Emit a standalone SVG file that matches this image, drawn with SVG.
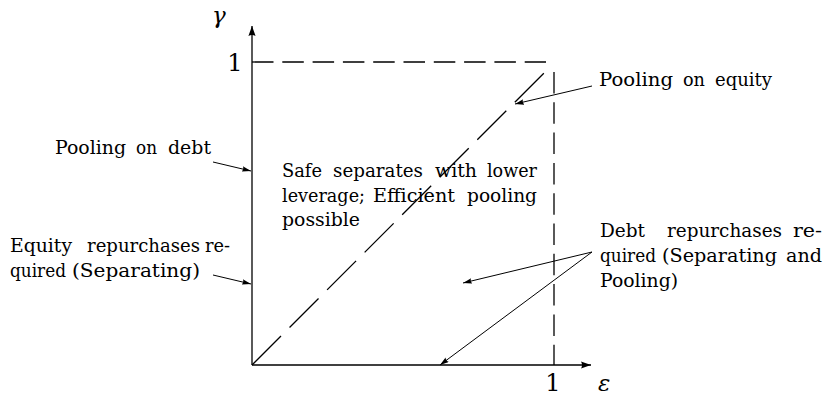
<svg xmlns="http://www.w3.org/2000/svg" width="827" height="396" viewBox="0 0 827 396">
<style>
.lbl{font-family:"DejaVu Serif","Liberation Serif",serif;font-size:19px;fill:#000}
.num{font-family:"DejaVu Serif","Liberation Serif",serif;font-size:24px;fill:#000}
.mi{font-family:"DejaVu Serif","Liberation Serif",serif;font-size:23px;font-style:italic;fill:#000}
.axis{stroke:#000;stroke-width:1.3;fill:none}
.dash{stroke:#000;stroke-width:1.3;fill:none}
.call{stroke:#000;stroke-width:1;fill:none}
</style>
<defs>
<marker id="ax" viewBox="-10 -4 10 8" refX="0" refY="0" markerWidth="10" markerHeight="8" markerUnits="userSpaceOnUse" orient="auto">
<path d="M0,0 L-10,-3.6 Q-8,0 -10,3.6 Z" fill="#000"/>
</marker>
<marker id="ca" viewBox="-9 -3 9 6" refX="0" refY="0" markerWidth="9" markerHeight="6" markerUnits="userSpaceOnUse" orient="auto">
<path d="M0,0 L-9,-2.8 Q-7,0 -9,2.8 Z" fill="#000"/>
</marker>
</defs>
<g id="axes">
<line class="axis" x1="252" y1="365" x2="252" y2="26" marker-end="url(#ax)"/>
<line class="axis" x1="252" y1="365" x2="591" y2="365" marker-end="url(#ax)"/>
<text class="mi" x="212" y="23">γ</text>
<text class="num" x="235" y="71" text-anchor="middle">1</text>
<text class="num" x="553" y="391" text-anchor="middle">1</text>
<text class="mi" x="598" y="391">ε</text>
</g>
<g id="boundaries">
<line class="dash" x1="252" y1="62" x2="546" y2="62" stroke-dasharray="21.5 8.8"/>
<line class="dash" x1="554" y1="72" x2="554" y2="365" stroke-dasharray="21.5 8.8"/>
<line class="dash" x1="252" y1="365" x2="544" y2="73" stroke-dasharray="41 12.1"/>
</g>
<g id="connectors">
<line class="call" x1="213" y1="162" x2="251" y2="171" marker-end="url(#ca)"/>
<line class="call" x1="213" y1="275" x2="251" y2="284" marker-end="url(#ca)"/>
<line class="call" x1="592" y1="86" x2="515" y2="104" marker-end="url(#ca)"/>
<line class="call" x1="592" y1="252" x2="463" y2="283" marker-end="url(#ca)"/>
<line class="call" x1="592" y1="252" x2="440" y2="365" marker-end="url(#ca)"/>
</g>
<g id="pooling-debt">
<text class="lbl" y="154"><tspan x="55" textLength="71" lengthAdjust="spacingAndGlyphs">Pooling</tspan><tspan x="136" textLength="21" lengthAdjust="spacingAndGlyphs">on</tspan><tspan x="168" textLength="43" lengthAdjust="spacingAndGlyphs">debt</tspan></text>
</g>
<g id="equity-repurchases">
<text class="lbl" y="252"><tspan x="10" textLength="62" lengthAdjust="spacingAndGlyphs">Equity</tspan><tspan x="87" textLength="113" lengthAdjust="spacingAndGlyphs">repurchases</tspan><tspan x="205" textLength="25" lengthAdjust="spacingAndGlyphs">re-</tspan></text>
<text class="lbl" y="277"><tspan x="10" textLength="56" lengthAdjust="spacingAndGlyphs">quired</tspan><tspan x="72" textLength="128" lengthAdjust="spacingAndGlyphs">(Separating)</tspan></text>
</g>
<g id="safe-separates">
<text class="lbl" y="177"><tspan x="282" textLength="40" lengthAdjust="spacingAndGlyphs">Safe</tspan><tspan x="333" textLength="90" lengthAdjust="spacingAndGlyphs">separates</tspan><tspan x="435" textLength="42" lengthAdjust="spacingAndGlyphs">with</tspan><tspan x="487" textLength="50" lengthAdjust="spacingAndGlyphs">lower</tspan></text>
<text class="lbl" y="202"><tspan x="282" textLength="83" lengthAdjust="spacingAndGlyphs">leverage;</tspan><tspan x="373" textLength="82" lengthAdjust="spacingAndGlyphs">Efficient</tspan><tspan x="467" textLength="70" lengthAdjust="spacingAndGlyphs">pooling</tspan></text>
<text class="lbl" y="226"><tspan x="282" textLength="78" lengthAdjust="spacingAndGlyphs">possible</tspan></text>
</g>
<g id="pooling-equity">
<text class="lbl" y="86"><tspan x="599" textLength="74" lengthAdjust="spacingAndGlyphs">Pooling</tspan><tspan x="683" textLength="22" lengthAdjust="spacingAndGlyphs">on</tspan><tspan x="715" textLength="57" lengthAdjust="spacingAndGlyphs">equity</tspan></text>
</g>
<g id="debt-repurchases">
<text class="lbl" y="237"><tspan x="600" textLength="45" lengthAdjust="spacingAndGlyphs">Debt</tspan><tspan x="667" textLength="115" lengthAdjust="spacingAndGlyphs">repurchases</tspan><tspan x="793" textLength="29" lengthAdjust="spacingAndGlyphs">re-</tspan></text>
<text class="lbl" y="262"><tspan x="600" textLength="56" lengthAdjust="spacingAndGlyphs">quired</tspan><tspan x="662" textLength="115" lengthAdjust="spacingAndGlyphs">(Separating</tspan><tspan x="786" textLength="36" lengthAdjust="spacingAndGlyphs">and</tspan></text>
<text class="lbl" y="287"><tspan x="600" textLength="78" lengthAdjust="spacingAndGlyphs">Pooling)</tspan></text>
</g>
</svg>
